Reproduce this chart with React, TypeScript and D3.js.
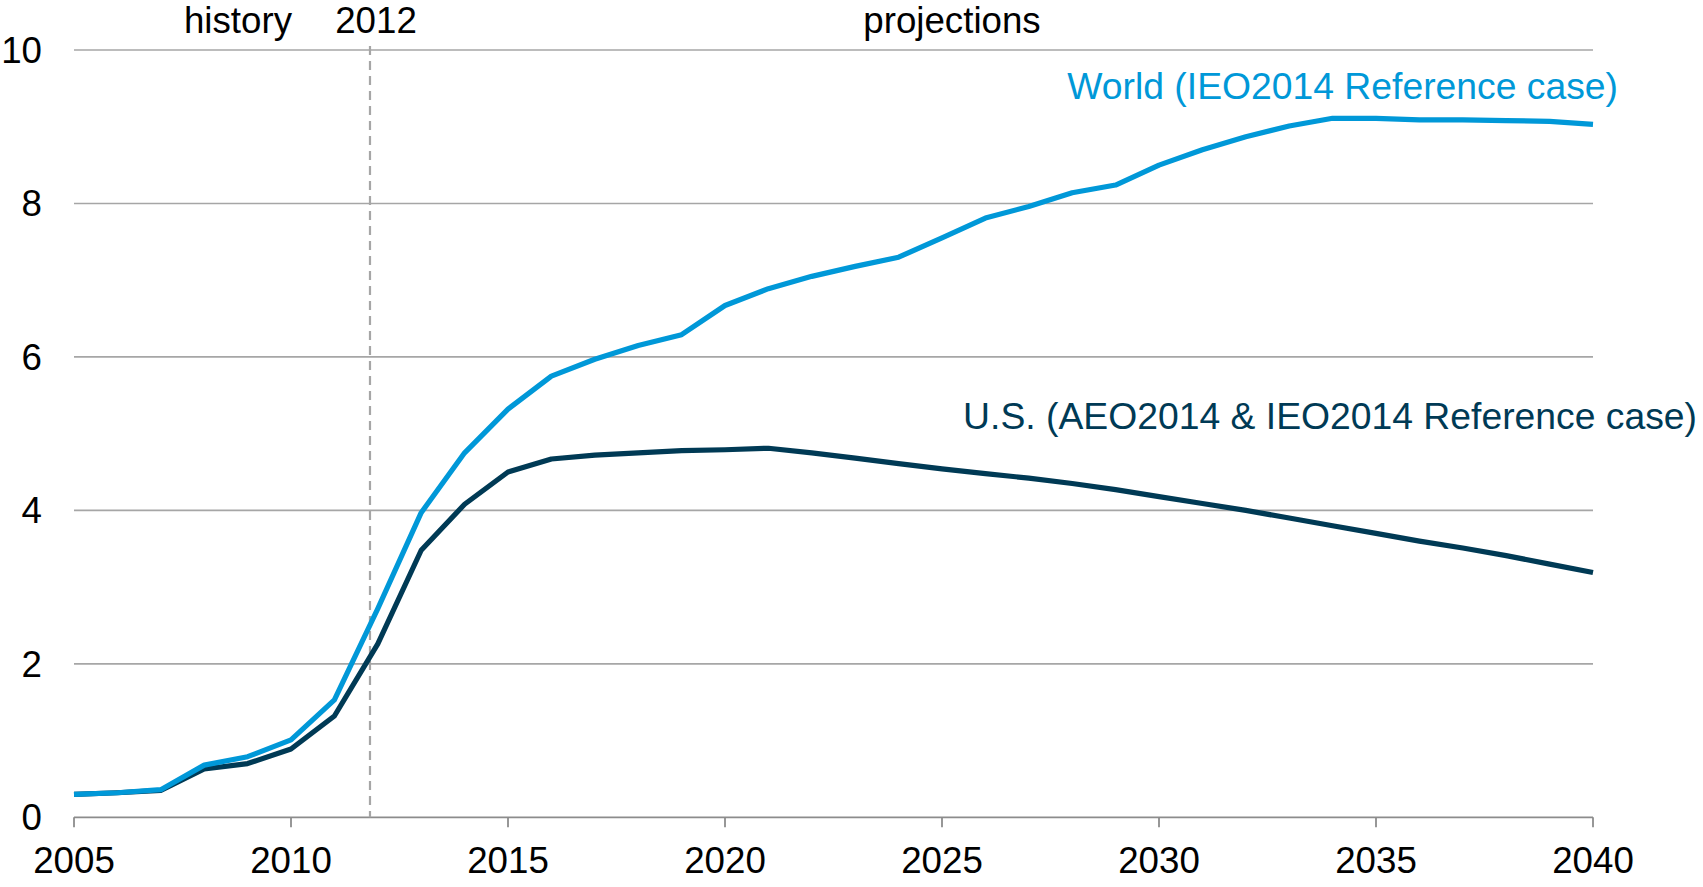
import React from "react";
import * as d3 from "d3";

// Years on the category axis
const years = [
  2005, 2006, 2007, 2008, 2009, 2010, 2011, 2012, 2013, 2014, 2015, 2016,
  2017, 2018, 2019, 2020, 2021, 2022, 2023, 2024, 2025, 2026, 2027, 2028,
  2029, 2030, 2031, 2032, 2033, 2034, 2035, 2036, 2037, 2038, 2039, 2040,
];

// World (IEO2014 Reference case)
const worldValues = [
  0.3, 0.32, 0.36, 0.68, 0.79, 1.01, 1.53, 2.72, 3.97, 4.75, 5.32, 5.75,
  5.97, 6.15, 6.29, 6.67, 6.89, 7.05, 7.18, 7.3, 7.55, 7.81, 7.96, 8.14,
  8.24, 8.5, 8.7, 8.87, 9.01, 9.11, 9.11, 9.09, 9.09, 9.08, 9.07, 9.03,
];

// U.S. (AEO2014 & IEO2014 Reference case)
const usValues = [
  0.3, 0.32, 0.35, 0.63, 0.7, 0.89, 1.32, 2.26, 3.48, 4.08, 4.5, 4.67,
  4.72, 4.75, 4.78, 4.79, 4.81, 4.75, 4.68, 4.61, 4.54, 4.48, 4.42, 4.35,
  4.27, 4.18, 4.09, 4.0, 3.9, 3.8, 3.7, 3.6, 3.51, 3.41, 3.3, 3.19,
];

const xTicks = [2005, 2010, 2015, 2020, 2025, 2030, 2035, 2040];
const yTicks = [0, 2, 4, 6, 8, 10];
const historyEnd = 2011.82;

const WORLD_COLOR = "#0098d8";
const US_COLOR = "#003a55";
const FONT = "'Liberation Sans', Arial, Helvetica, sans-serif";
const TICK_SIZE = 36.7;
const LABEL_SIZE = 37.3;

export default function App() {
  const width = 1703;
  const height = 887;

  const x = d3.scaleLinear().domain([2005, 2040]).range([74, 1593]);
  const y = d3.scaleLinear().domain([0, 10]).range([817.3, 50]);

  const line = d3
    .line<number>()
    .x((_, i) => x(years[i]))
    .y((d) => y(d));

  const [x0, x1] = x.range();

  return (
    <svg
      width={width}
      height={height}
      style={{ position: "absolute", left: 0, top: 0, background: "#fff" }}
      fontFamily={FONT}
    >
      {/* horizontal gridlines */}
      {yTicks
        .filter((t) => t > 0)
        .map((t) => (
          <line
            key={`g${t}`}
            x1={x0}
            x2={x1}
            y1={y(t)}
            y2={y(t)}
            stroke="#a6a6a6"
            strokeWidth={1.6}
          />
        ))}

      {/* y tick labels */}
      {yTicks.map((t) => (
        <text
          key={`yl${t}`}
          x={42}
          y={y(t) + 12.8}
          textAnchor="end"
          fontSize={TICK_SIZE}
          fill="#000"
        >
          {t}
        </text>
      ))}

      {/* x axis */}
      <line x1={x0} x2={x1} y1={y(0)} y2={y(0)} stroke="#8c8c8c" strokeWidth={1.8} />
      {xTicks.map((t) => (
        <g key={`xt${t}`}>
          <line
            x1={x(t)}
            x2={x(t)}
            y1={y(0)}
            y2={y(0) + 10}
            stroke="#8c8c8c"
            strokeWidth={1.8}
          />
          <text x={x(t)} y={873} textAnchor="middle" fontSize={TICK_SIZE} fill="#000">
            {t}
          </text>
        </g>
      ))}

      {/* history / projections divider */}
      <line
        x1={x(historyEnd)}
        x2={x(historyEnd)}
        y1={y(10) - 4}
        y2={y(0)}
        stroke="#a6a6a6"
        strokeWidth={2.2}
        strokeDasharray="9 6"
      />
      <text x={238} y={33} textAnchor="middle" fontSize={TICK_SIZE} fill="#000">
        history
      </text>
      <text x={376} y={33} textAnchor="middle" fontSize={TICK_SIZE} fill="#000">
        2012
      </text>
      <text x={952} y={33} textAnchor="middle" fontSize={TICK_SIZE} fill="#000">
        projections
      </text>

      {/* series */}
      <path
        d={line(usValues) ?? ""}
        fill="none"
        stroke={US_COLOR}
        strokeWidth={5.2}
        strokeLinejoin="round"
      />
      <path
        d={line(worldValues) ?? ""}
        fill="none"
        stroke={WORLD_COLOR}
        strokeWidth={5.2}
        strokeLinejoin="round"
      />

      {/* series labels */}
      <text x={1618} y={99} textAnchor="end" fontSize={LABEL_SIZE} fill={WORLD_COLOR}>
        World (IEO2014 Reference case)
      </text>
      <text x={1697} y={429} textAnchor="end" fontSize={LABEL_SIZE} fill={US_COLOR}>
        U.S. (AEO2014 &amp; IEO2014 Reference case)
      </text>
    </svg>
  );
}
